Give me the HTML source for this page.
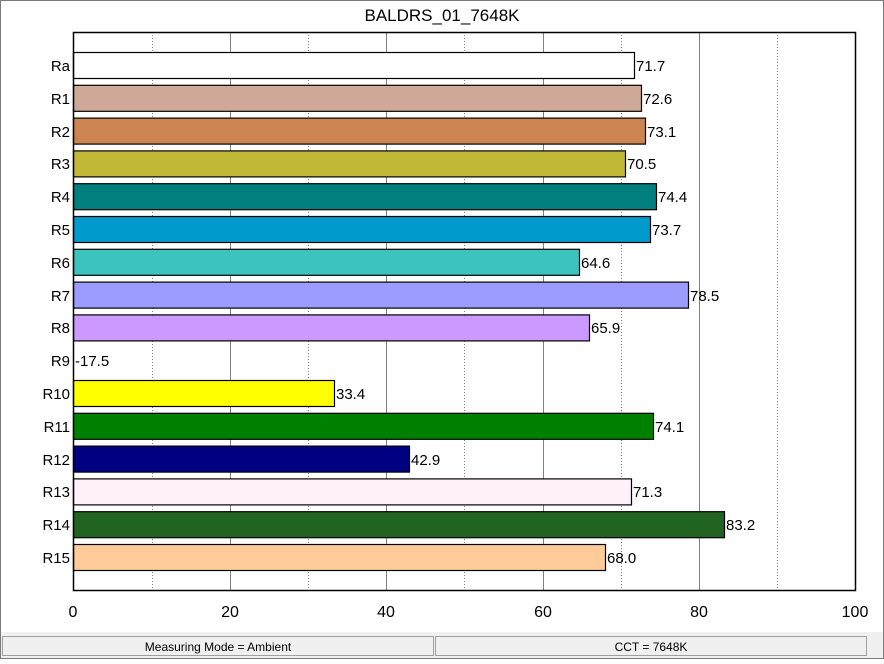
<!DOCTYPE html>
<html><head><meta charset="utf-8"><style>
body{margin:0;width:884px;height:659px;overflow:hidden;background:#fff;font-family:"Liberation Sans",sans-serif}
</style></head><body>
<svg width="884" height="659" xmlns="http://www.w3.org/2000/svg" font-family="Liberation Sans, sans-serif">
<rect x="0" y="0" width="884" height="659" fill="#fff"/>
<rect x="0" y="632" width="884" height="27" fill="#f0f0f0"/>
<rect x="0.5" y="0.5" width="883" height="658" fill="none" stroke="#7a7a7a"/>
<rect x="2.5" y="636.5" width="431" height="19" fill="#f0f0f0" stroke="#a0a0a0"/>
<rect x="435.5" y="636.5" width="431" height="19" fill="#f0f0f0" stroke="#a0a0a0"/>
<text x="218" y="651" font-size="12" text-anchor="middle" fill="#000">Measuring Mode = Ambient</text>
<text x="651" y="651" font-size="12" text-anchor="middle" fill="#000">CCT = 7648K</text>
<text x="442" y="21" font-size="17" text-anchor="middle">BALDRS_01_7648K</text>
<g stroke="#808080" stroke-width="1">
<line x1="152.5" y1="32" x2="152.5" y2="591" stroke-dasharray="1,2"/>
<line x1="230.5" y1="32" x2="230.5" y2="591"/>
<line x1="308.5" y1="32" x2="308.5" y2="591" stroke-dasharray="1,2"/>
<line x1="386.5" y1="32" x2="386.5" y2="591"/>
<line x1="464.5" y1="32" x2="464.5" y2="591" stroke-dasharray="1,2"/>
<line x1="543.5" y1="32" x2="543.5" y2="591"/>
<line x1="621.5" y1="32" x2="621.5" y2="591" stroke-dasharray="1,2"/>
<line x1="699.5" y1="32" x2="699.5" y2="591"/>
<line x1="777.5" y1="32" x2="777.5" y2="591" stroke-dasharray="1,2"/>
</g>
<g stroke="#000" stroke-width="1.2">
<rect x="73.5" y="52.5" width="561" height="26" fill="#ffffff"/>
<rect x="73.5" y="85.3" width="568" height="26" fill="#cfa997"/>
<rect x="73.5" y="118.1" width="572" height="26" fill="#cd8453"/>
<rect x="73.5" y="150.9" width="552" height="26" fill="#c1b837"/>
<rect x="73.5" y="183.7" width="583" height="26" fill="#007f7f"/>
<rect x="73.5" y="216.5" width="577" height="26" fill="#009acd"/>
<rect x="73.5" y="249.3" width="506" height="26" fill="#3cc3bd"/>
<rect x="73.5" y="282.1" width="615" height="26" fill="#9c9cff"/>
<rect x="73.5" y="314.9" width="516" height="26" fill="#cc99ff"/>
<rect x="73.5" y="380.5" width="261" height="26" fill="#ffff00"/>
<rect x="73.5" y="413.3" width="580" height="26" fill="#008000"/>
<rect x="73.5" y="446.1" width="336" height="26" fill="#000080"/>
<rect x="73.5" y="478.9" width="558" height="26" fill="#fff0fa"/>
<rect x="73.5" y="511.7" width="651" height="26" fill="#216421"/>
<rect x="73.5" y="544.5" width="532" height="26" fill="#ffcc99"/>
</g>
<rect x="73.5" y="32.5" width="782" height="558" fill="none" stroke="#000" stroke-width="1.5"/>
<g font-size="15" fill="#000">
<g text-anchor="end">
<text x="70" y="71">Ra</text><text x="70" y="104">R1</text><text x="70" y="137">R2</text><text x="70" y="169">R3</text><text x="70" y="202">R4</text><text x="70" y="235">R5</text><text x="70" y="268">R6</text><text x="70" y="301">R7</text><text x="70" y="333">R8</text><text x="70" y="366">R9</text><text x="70" y="399">R10</text><text x="70" y="432">R11</text><text x="70" y="465">R12</text><text x="70" y="497">R13</text><text x="70" y="530">R14</text><text x="70" y="563">R15</text>
</g>
<text x="636" y="71">71.7</text><text x="643" y="104">72.6</text><text x="647" y="137">73.1</text><text x="627" y="169">70.5</text><text x="658" y="202">74.4</text><text x="652" y="235">73.7</text><text x="581" y="268">64.6</text><text x="690" y="301">78.5</text><text x="591" y="333">65.9</text><text x="75" y="366">-17.5</text><text x="336" y="399">33.4</text><text x="655" y="432">74.1</text><text x="411" y="465">42.9</text><text x="633" y="497">71.3</text><text x="726" y="530">83.2</text><text x="607" y="563">68.0</text>
<g text-anchor="middle" font-size="16">
<text x="73" y="617">0</text><text x="230" y="617">20</text><text x="386" y="617">40</text><text x="543" y="617">60</text><text x="699" y="617">80</text><text x="855" y="617">100</text>
</g>
</g>
</svg>
</body></html>
